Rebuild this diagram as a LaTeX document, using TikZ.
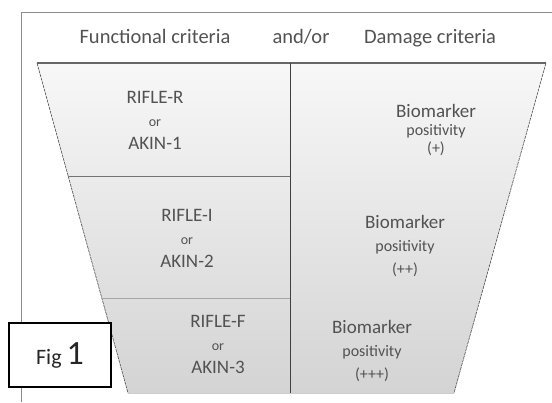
\documentclass[tikz,border=0pt]{standalone}
\usepackage{fontspec}
\setmainfont{Carlito}
\usetikzlibrary{calc}

\newcommand{\orsize}{\fontsize{14}{16}\selectfont}
\newcommand{\possize}{\fontsize{16}{18}\selectfont}

\tikzset{
  celltext/.style={font=\fontsize{19}{23}\selectfont, text=black!68, align=center, inner sep=0pt},
  headtext/.style={font=\fontsize{20.5}{23}\selectfont, text=black!68, inner sep=0pt, anchor=base},
  edgeline/.style={black!70, line width=0.6pt, dash pattern=on 3pt off 0.8pt},
}

\begin{document}
\begin{tikzpicture}[x=1pt,y=-1pt]
\useasboundingbox (0,0) rectangle (552,402);
% frame
\draw[black!45, line width=1pt] (21,402) -- (21,12) -- (552,12);
% funnel
\coordinate (tl) at (37,63);
\coordinate (tr) at (546,63);
\coordinate (br) at (454,393);
\coordinate (bl) at (128,393);
\shade[top color=black!3, bottom color=black!17] (tl) -- (tr) -- (br) -- (bl) -- cycle;
\draw[edgeline] (tl) -- (bl);
\draw[edgeline] (tr) -- (br);
\draw[black!60, line width=1.4pt] (tl) -- (tr);
\draw[black!20, line width=0.8pt] (bl) -- (br);
\coordinate (mt) at (290,63);
\coordinate (mb) at (290,393);
\draw[black!75, line width=0.8pt] (mt) -- (mb);
\coordinate (r1) at ($(tl)!0.345!(bl)$);
\coordinate (r2) at ($(tl)!0.712!(bl)$);
\draw[black!55, line width=0.8pt] (r1) -- (r1 -| mt);
\draw[black!35, line width=0.8pt] (r2) -- (r2 -| mt);
% headings
\node[headtext] (func) at (155,43) {Functional criteria};
\node[headtext] (andor) at (301,43) {and/or};
\node[headtext] (dmg) at (430,43) {Damage criteria};
% cells
\node[celltext] (akin1) at (155,120) {RIFLE-R\\{\orsize or}\\AKIN-1};
\node[celltext] (akin2) at (187,238) {RIFLE-I\\{\orsize or}\\AKIN-2};
\node[celltext] (akin3) at (218,344) {RIFLE-F\\{\orsize or}\\AKIN-3};
\node[celltext] (bio1) at (436,130) {Biomarker\\[-5pt]{\possize positivity}\\[-5pt]{\possize (+)}};
\node[celltext] (bio2) at (405,246) {Biomarker\\{\possize positivity}\\{\possize (++)}};
\node[celltext] (bio3) at (372,351) {Biomarker\\{\possize positivity}\\{\possize (+++)}};
% figure tag
\node[draw=black, line width=1.2pt, fill=white, minimum width=102pt, minimum height=64pt, inner sep=0pt,
      text=black!85, font=\fontsize{22}{24}\selectfont] (fig) at (60,355) {Fig {\fontsize{34}{36}\selectfont 1}};
\end{tikzpicture}
\end{document}
